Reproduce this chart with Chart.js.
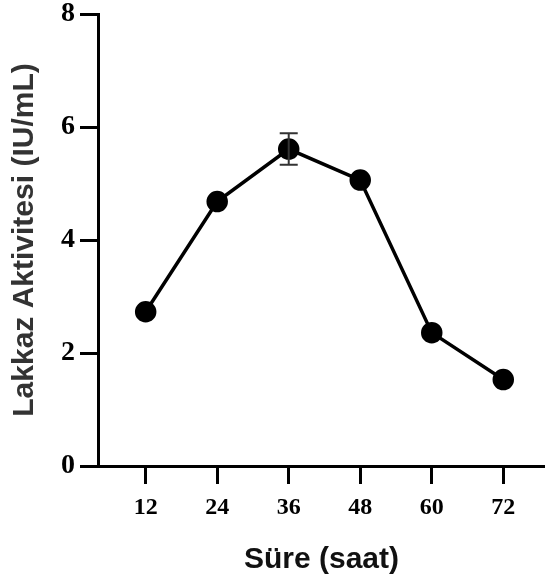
<!DOCTYPE html>
<html>
<head>
<meta charset="utf-8">
<script src="https://cdn.jsdelivr.net/npm/chart.js@4/dist/chart.umd.min.js"></script>
<style>
html,body{margin:0;padding:0;background:#fff;}
#wrap{width:545px;height:588px;position:relative;}
</style>
</head>
<body>
<div id="wrap"><canvas id="c" width="545" height="588"></canvas></div>
<script>
const hours = [12, 24, 36, 48, 60, 72];
const activity = [2.73, 4.68, 5.61, 5.06, 2.36, 1.53];
const errors = [0, 0, 0.28, 0, 0, 0];
const yTicks = [0, 2, 4, 6, 8];
const xTitle = 'Süre (saat)';
const yTitle = 'Lakkaz Aktivitesi (IU/mL)';

const errorBars = {
  id: 'errorBars',
  afterDatasetsDraw(chart) {
    const ctx = chart.ctx, xs = chart.scales.x, ys = chart.scales.y;
    ctx.save();
    ctx.strokeStyle = '#333';
    ctx.lineWidth = 2;
    hours.forEach((h, i) => {
      if (!errors[i]) return;
      const px = xs.getPixelForValue(h);
      const top = ys.getPixelForValue(activity[i] + errors[i]);
      const bot = ys.getPixelForValue(activity[i] - errors[i]);
      ctx.beginPath();
      ctx.moveTo(px, top); ctx.lineTo(px, bot);
      ctx.moveTo(px - 9, top); ctx.lineTo(px + 9, top);
      ctx.moveTo(px - 9, bot); ctx.lineTo(px + 9, bot);
      ctx.stroke();
    });
    ctx.restore();
  }
};

new Chart(document.getElementById('c'), {
  type: 'line',
  data: {
    datasets: [{
      data: hours.map((h, i) => ({x: h, y: activity[i]})),
      borderColor: '#000',
      backgroundColor: '#000',
      borderWidth: 3.5,
      pointRadius: 9,
      pointHoverRadius: 9,
      pointBackgroundColor: '#000',
      pointBorderColor: '#000',
      tension: 0,
      clip: false
    }]
  },
  options: {
    responsive: false,
    animation: false,
    layout: {autoPadding: false, padding: {left: 0, right: 0, top: 14, bottom: 0}},
    plugins: {legend: {display: false}, tooltip: {enabled: false}},
    scales: {
      x: {
        type: 'linear',
        min: 4, max: 79,
        afterBuildTicks(scale) { scale.ticks = hours.map(v => ({value: v})); },
        afterFit(scale) { scale.height = 122; scale.paddingLeft = 0; scale.paddingRight = 0; },
        border: {display: true, color: '#000', width: 3},
        grid: {drawOnChartArea: false, drawTicks: true, tickLength: 18, tickWidth: 3, tickColor: '#000'},
        ticks: {color: '#000', padding: 9, font: {family: 'Liberation Serif', weight: 'bold', size: 24}, maxRotation: 0},
        title: {display: true, text: xTitle, color: '#111', padding: {top: 0, bottom: 10}, font: {family: 'Liberation Sans', weight: 'bold', size: 30}}
      },
      y: {
        min: 0, max: 8,
        afterBuildTicks(scale) { scale.ticks = yTicks.map(v => ({value: v})); },
        afterFit(scale) { scale.width = 98; scale.paddingTop = 0; scale.paddingBottom = 0; },
        border: {display: true, color: '#000', width: 3},
        grid: {drawOnChartArea: false, drawTicks: true, tickLength: 18, tickWidth: 3, tickColor: '#000'},
        ticks: {color: '#000', padding: 5, font: {family: 'Liberation Serif', weight: 'bold', size: 28}},
        title: {display: true, text: yTitle, color: '#333', padding: {top: 7, bottom: 0}, font: {family: 'Liberation Sans', weight: 'bold', size: 30}}
      }
    }
  },
  plugins: [errorBars]
});
</script>
</body>
</html>
